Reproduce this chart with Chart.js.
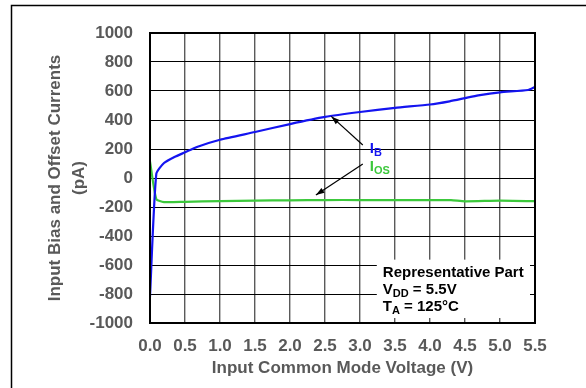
<!DOCTYPE html>
<html>
<head>
<meta charset="utf-8">
<script src="https://cdn.jsdelivr.net/npm/chart.js@4"></script>
<style>
  body { margin: 0; background: #fff; }
  canvas { display: block; }
</style>
</head>
<body>
<canvas id="chart" width="586" height="388"></canvas>
<script>
// Input bias (IB) and offset (IOS) current vs common mode voltage
const ibVolts = [0, 0.09, 0.2, 0.35, 0.5, 0.67, 1.0, 1.5, 2.0, 2.5, 3.0, 3.5, 4.0, 4.28, 4.5, 4.69, 5.0, 5.4, 5.5];
const ibValues = [-816, 28, 103, 145, 177, 214, 264, 317, 372, 421, 455, 484, 507, 529, 551, 570, 591, 607, 628];
const iosVolts = [0, 0.09, 0.2, 0.5, 1.0, 1.5, 2.0, 2.5, 3.0, 3.5, 4.0, 4.3, 4.5, 5.0, 5.5];
const iosValues = [115, -145, -166, -164, -159, -156, -154, -152, -152, -153, -152, -153, -161, -156, -160];
const xTicks = ["0.0", "0.5", "1.0", "1.5", "2.0", "2.5", "3.0", "3.5", "4.0", "4.5", "5.0", "5.5"];
const yTicks = [-1000, -800, -600, -400, -200, 0, 200, 400, 600, 800, 1000];

const GRAY = "#595959";
const FONT = "'Liberation Sans', Arial, sans-serif";

function pts(xs, ys) {
  return xs.map((x, i) => ({ x: x, y: ys[i] }));
}

// draw "I" + subscript
function subText(ctx, x, y, main, sub, size, subSize, color) {
  ctx.fillStyle = color;
  ctx.textBaseline = "alphabetic";
  ctx.textAlign = "left";
  ctx.font = "bold " + size + "px " + FONT;
  ctx.fillText(main, x, y);
  const w = ctx.measureText(main).width;
  ctx.font = "bold " + subSize + "px " + FONT;
  ctx.fillText(sub, x + w, y + 3);
  return x + w + ctx.measureText(sub).width;
}

function arrow(ctx, x1, y1, x2, y2) {
  ctx.strokeStyle = "#000";
  ctx.fillStyle = "#000";
  ctx.lineWidth = 1.2;
  ctx.beginPath();
  ctx.moveTo(x1, y1);
  ctx.lineTo(x2, y2);
  ctx.stroke();
  const a = Math.atan2(y2 - y1, x2 - x1);
  const len = 9, half = 0.32;
  ctx.beginPath();
  ctx.moveTo(x2, y2);
  ctx.lineTo(x2 - len * Math.cos(a - half), y2 - len * Math.sin(a - half));
  ctx.lineTo(x2 - len * Math.cos(a + half), y2 - len * Math.sin(a + half));
  ctx.closePath();
  ctx.fill();
}

const decor = {
  id: "decor",
  afterDatasetsDraw(chart) {
    const ctx = chart.ctx;
    const area = chart.chartArea;
    const xs = chart.scales.x, ys = chart.scales.y;
    ctx.save();

    // legend box, bottom right
    const bx = xs.getPixelForValue(3.24), by = ys.getPixelForValue(-563);
    ctx.fillStyle = "#fff";
    ctx.fillRect(bx, by, area.right - 5 - bx, area.bottom - 5 - by);
    ctx.fillStyle = "#000";
    ctx.font = "bold 15px " + FONT;
    ctx.textBaseline = "alphabetic";
    ctx.fillText("Representative Part", bx + 6, by + 17);
    let e = subText(ctx, bx + 6, by + 34, "V", "DD", 15, 11, "#000");
    ctx.font = "bold 15px " + FONT;
    ctx.fillText(" = 5.5V", e, by + 34);
    e = subText(ctx, bx + 6, by + 51, "T", "A", 15, 11, "#000");
    ctx.font = "bold 15px " + FONT;
    ctx.fillText(" = 125\u00B0C", e, by + 51);

    // curve labels and arrows
    const lx = xs.getPixelForValue(3.14);
    subText(ctx, lx, ys.getPixelForValue(170), "I", "B", 15, 11, "#1414f0");
    subText(ctx, lx, ys.getPixelForValue(45), "I", "OS", 15, 11, "#3cc83c");
    arrow(ctx, lx - 7, ys.getPixelForValue(228), xs.getPixelForValue(2.59), ys.getPixelForValue(425));
    arrow(ctx, lx - 7, ys.getPixelForValue(97), xs.getPixelForValue(2.37), ys.getPixelForValue(-118));

    // plot frame
    ctx.strokeStyle = "#000";
    ctx.lineWidth = 2;
    ctx.strokeRect(area.left, area.top, area.right - area.left, area.bottom - area.top);

    // outer page frame
    ctx.lineWidth = 1.5;
    ctx.strokeRect(11.5, 5.5, 600, 420);
    ctx.restore();
  }
};

new Chart(document.getElementById("chart"), {
  type: "line",
  data: {
    datasets: [
      {
        label: "IB",
        data: pts(ibVolts, ibValues),
        borderColor: "#1414f0",
        borderWidth: 2.2,
        pointRadius: 0,
        tension: 0.2,
      },
      {
        label: "IOS",
        data: pts(iosVolts, iosValues),
        borderColor: "#3cc83c",
        borderWidth: 2.2,
        pointRadius: 0,
        tension: 0.2,
      },
    ],
  },
  options: {
    responsive: false,
    animation: false,
    devicePixelRatio: 1,
    layout: { padding: { left: 10, top: 33, right: 51, bottom: 0 } },
    plugins: {
      legend: { display: false },
      tooltip: { enabled: false },
    },
    scales: {
      x: {
        type: "linear",
        min: 0,
        max: 5.5,
        afterFit: (s) => { s.height = 65; },
        afterBuildTicks: (s) => { s.ticks = xTicks.map((t) => ({ value: parseFloat(t) })); },
        ticks: {
          callback: (v, i) => xTicks[i],
          color: GRAY,
          font: { family: FONT, size: 17, weight: "bold" },
          padding: 13,
          maxRotation: 0,
          autoSkip: false,
        },
        grid: { color: "#5a5a5a", lineWidth: 1.4, drawTicks: false },
        border: { color: "#000", width: 2 },
        title: {
          display: true,
          text: "Input Common Mode Voltage (V)",
          color: GRAY,
          font: { family: FONT, size: 17, weight: "bold" },
          padding: { top: 0, bottom: 9 },
        },
      },
      y: {
        min: -1000,
        max: 1000,
        afterFit: (s) => { s.width = 140; },
        afterBuildTicks: (s) => { s.ticks = yTicks.map((v) => ({ value: v })); },
        ticks: {
          callback: (v) => String(v),
          color: GRAY,
          font: { family: FONT, size: 17, weight: "bold" },
          padding: 17,
          autoSkip: false,
        },
        grid: { color: "#000", lineWidth: 1, drawTicks: false },
        border: { color: "#000", width: 2 },
        title: {
          display: true,
          text: ["Input Bias and Offset Currents", "(pA)"],
          color: GRAY,
          font: { family: FONT, size: 17, weight: "bold", lineHeight: "24px" },
          padding: { top: 33.5, bottom: 0 },
        },
      },
    },
  },
  plugins: [decor],
});
</script>
</body>
</html>
